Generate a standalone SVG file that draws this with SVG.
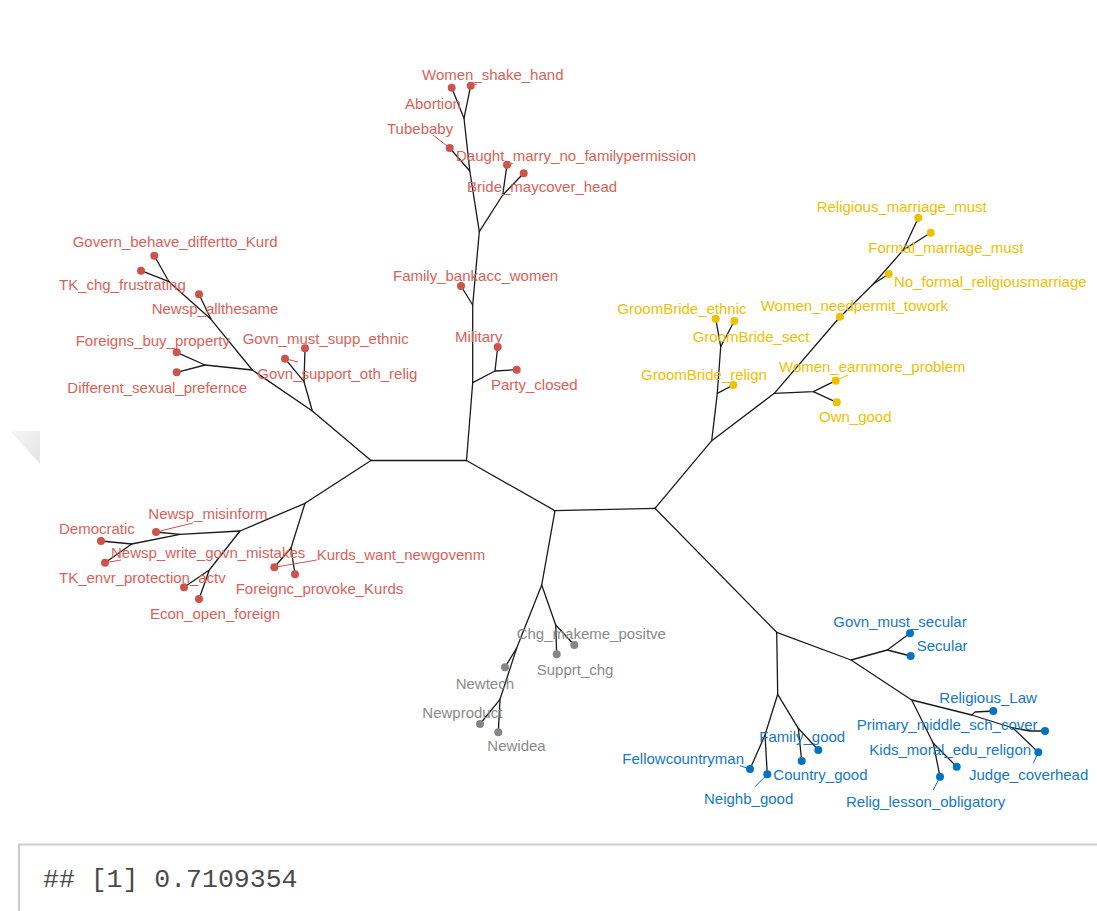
<svg xmlns="http://www.w3.org/2000/svg" width="1097" height="911" viewBox="0 0 1097 911">
<style>
.e{fill:none;stroke:#1a1a1a;stroke-width:1.3;stroke-linecap:round;stroke-linejoin:round}
.lr{stroke:#CD534C;stroke-width:1}
.ly{stroke:#EFC000;stroke-width:1}
.lb{stroke:#0073C2;stroke-width:1}
.dr{fill:#CD534C}.dy{fill:#EFC000}.dg{fill:#868686}.db{fill:#0073C2}
text{font-family:"Liberation Sans",Arial,sans-serif;font-size:15px}
.tr{fill:#DB5F58}.ty{fill:#EFC000}.tg{fill:#8a8a8a}.tb{fill:#1478C8}
.mono{font-family:"Liberation Mono","Courier New",monospace;font-size:26.5px;fill:#4a4a4a}
</style>
<defs>
<linearGradient id="sh" x1="0" y1="0" x2="1" y2="1">
<stop offset="0" stop-color="#f6f6f6"/><stop offset="1" stop-color="#e4e4e4"/>
</linearGradient>
</defs>
<rect width="1097" height="911" fill="#fff"/>
<polygon points="10,431 40,431 40,464" fill="url(#sh)"/>

<g id="connectors">
<path class="e" d="M371,460.5 L466.5,460.5 L555,510.7 L655,508.3"/>
<path class="e" d="M466.5,460.5 L472.7,382.7 L472.7,305 L479.3,231.7 L469.8,171 L464,118.3 L451.7,87.7"/>
<path class="e" d="M464,118.3 L470.7,85.7"/>
<path class="e" d="M469.8,171 L449.7,148"/>
<path class="e" d="M479.3,231.7 L502.7,195 L507,164.7"/>
<path class="e" d="M502.7,195 L523.7,173.3"/>
<path class="e" d="M472.7,305 L461,286"/>
<path class="e" d="M472.7,382.7 L495,371 L497.7,347"/>
<path class="e" d="M495,371 L516.7,369.7"/>
<path class="e" d="M371,460.5 L312.3,411 L252.3,370 L211,319.3 L169,281.7 L154.3,255.7"/>
<path class="e" d="M169,281.7 L141,270.7"/>
<path class="e" d="M211,319.3 L199,294.3"/>
<path class="e" d="M252.3,370 L205,365 L176.7,352.3"/>
<path class="e" d="M205,365 L176.7,372.3"/>
<path class="e" d="M312.3,411 L304,381.7 L305,348.3"/>
<path class="e" d="M304,381.7 L285,358.7"/>
<path class="e" d="M371,460.5 L305,503.3 L240,531 L180,534.3 L131.7,544 L101,541"/>
<path class="e" d="M180,534.3 L156,532"/>
<path class="e" d="M131.7,544 L105,562.7"/>
<path class="e" d="M240,531 L209.3,570 L184,587.3"/>
<path class="e" d="M209.3,570 L199,599"/>
<path class="e" d="M305,503.3 L291,548 L274.3,567.3"/>
<path class="e" d="M291,548 L295,574.3"/>
<path class="e" d="M655,508.3 L711.7,440.7 L774.3,393.3 L839,318 L873.3,284 L903.3,250 L918.3,217.7"/>
<path class="e" d="M903.3,250 L930.7,232.7"/>
<path class="e" d="M873.3,284 L888.7,274"/>
<path class="e" d="M774.3,393.3 L813.3,391.7 L835.7,380.7"/>
<path class="e" d="M813.3,391.7 L836.7,402.3"/>
<path class="e" d="M711.7,440.7 L717.3,393.3 L720.7,346.7 L715.7,318.7"/>
<path class="e" d="M720.7,346.7 L734.3,321"/>
<path class="e" d="M717.3,393.3 L733.3,385"/>
<path class="e" d="M555,510.7 L541.7,585 L516.7,648 L500,699.3 L498.3,732.3"/>
<path class="e" d="M500,699.3 L480,724"/>
<path class="e" d="M516.7,648 L505,667.3"/>
<path class="e" d="M541.7,585 L555.7,625 L556.7,654.3"/>
<path class="e" d="M555.7,625 L574.3,645"/>
<path class="e" d="M655,508.3 L776.7,632.3 L777.7,694.3 L765,735 L750,769"/>
<path class="e" d="M765,735 L767.3,774.3"/>
<path class="e" d="M777.7,694.3 L798.3,728.3 L801.7,761"/>
<path class="e" d="M798.3,728.3 L818.3,750"/>
<path class="e" d="M776.7,632.3 L851,660 L911.7,700 L971.7,715 L1013,728 L1030,731 L1045,731"/>
<path class="e" d="M971.7,715 L975,712 L993.3,711"/>
<path class="e" d="M1013,728 L1038.3,752.3"/>
<path class="e" d="M911.7,700 L933.3,743.3 L940,776.7"/>
<path class="e" d="M933.3,743.3 L956.7,766.7"/>
<path class="e" d="M851,660 L887.3,650 L910,633.3"/>
<path class="e" d="M887.3,650 L910.7,656"/>
<line class="lr" x1="433" y1="135" x2="449.7" y2="148"/>
<line class="lr" x1="470.7" y1="85.7" x2="477" y2="84"/>
<line class="lr" x1="285" y1="358.7" x2="298" y2="362"/>
<line class="lr" x1="274.3" y1="567.3" x2="316.7" y2="560"/>
<line class="lr" x1="156" y1="532" x2="193" y2="523"/>
<line class="lr" x1="105" y1="562.7" x2="121" y2="560"/>
<line class="ly" x1="835.7" y1="380.7" x2="848" y2="375"/>
<line class="lb" x1="750" y1="769" x2="740" y2="765.7"/>
<line class="lb" x1="767.3" y1="774.3" x2="755" y2="786.7"/>
<line class="lb" x1="940" y1="776.7" x2="933.3" y2="790"/>
<line class="lb" x1="1038.3" y1="752.3" x2="1033.3" y2="763.3"/>
</g>

<g id="n-women-shake-hand"><circle class="dr" cx="470.7" cy="85.7" r="4"/><text class="tr" x="422" y="80">Women_shake_hand</text></g>
<g id="n-abortion"><circle class="dr" cx="451.7" cy="87.7" r="4"/><text class="tr" x="405" y="109">Abortion</text></g>
<g id="n-tubebaby"><circle class="dr" cx="449.7" cy="148" r="4"/><text class="tr" x="387" y="134">Tubebaby</text></g>
<g id="n-daught"><circle class="dr" cx="507" cy="164.7" r="4"/><text class="tr" x="456" y="161">Daught_marry_no_familypermission</text></g>
<g id="n-bride"><circle class="dr" cx="523.7" cy="173.3" r="4"/><text class="tr" x="467" y="192">Bride_maycover_head</text></g>
<g id="n-family-bankacc"><circle class="dr" cx="461" cy="286" r="4"/><text class="tr" x="393" y="281">Family_bankacc_women</text></g>
<g id="n-military"><circle class="dr" cx="497.7" cy="347" r="4"/><text class="tr" x="455" y="342">Military</text></g>
<g id="n-party-closed"><circle class="dr" cx="516.7" cy="369.7" r="4"/><text class="tr" x="491" y="390">Party_closed</text></g>

<g id="n-govern-behave"><circle class="dr" cx="154.3" cy="255.7" r="4"/><text class="tr" x="72.7" y="247">Govern_behave_differtto_Kurd</text></g>
<g id="n-tk-chg"><circle class="dr" cx="141" cy="270.7" r="4"/><text class="tr" x="59" y="290">TK_chg_frustrating</text></g>
<g id="n-newsp-allthesame"><circle class="dr" cx="199" cy="294.3" r="4"/><text class="tr" x="151.7" y="314">Newsp_allthesame</text></g>
<g id="n-foreigns-buy"><circle class="dr" cx="176.7" cy="352.3" r="4"/><text class="tr" x="75.7" y="346">Foreigns_buy_property</text></g>
<g id="n-different-sexual"><circle class="dr" cx="176.7" cy="372.3" r="4"/><text class="tr" x="67.3" y="393">Different_sexual_prefernce</text></g>
<g id="n-govn-must-supp"><circle class="dr" cx="305" cy="348.3" r="4"/><text class="tr" x="242.7" y="343.5">Govn_must_supp_ethnic</text></g>
<g id="n-govn-support"><circle class="dr" cx="285" cy="358.7" r="4"/><text class="tr" x="257.3" y="379">Govn_support_oth_relig</text></g>

<g id="n-newsp-misinform"><circle class="dr" cx="156" cy="532" r="4"/><text class="tr" x="148.3" y="518.5">Newsp_misinform</text></g>
<g id="n-democratic"><circle class="dr" cx="101" cy="541" r="4"/><text class="tr" x="59" y="533.5">Democratic</text></g>
<g id="n-tk-envr"><circle class="dr" cx="105" cy="562.7" r="4"/><text class="tr" x="59" y="582.5">TK_envr_protection_actv</text></g>
<g id="n-newsp-write"><circle class="dr" cx="184" cy="587.3" r="4"/><text class="tr" x="111" y="557.5">Newsp_write_govn_mistakes</text></g>
<g id="n-econ-open"><circle class="dr" cx="199" cy="599" r="4"/><text class="tr" x="150" y="618.5">Econ_open_foreign</text></g>
<g id="n-kurds-want"><circle class="dr" cx="274.3" cy="567.3" r="4"/><text class="tr" x="316.7" y="559.5">Kurds_want_newgovenm</text></g>
<g id="n-foreignc-provoke"><circle class="dr" cx="295" cy="574.3" r="4"/><text class="tr" x="235.7" y="593.5">Foreignc_provoke_Kurds</text></g>

<g id="n-religious-marriage"><circle class="dy" cx="918.3" cy="217.7" r="4"/><text class="ty" x="816.7" y="212">Religious_marriage_must</text></g>
<g id="n-formal-marriage"><circle class="dy" cx="930.7" cy="232.7" r="4"/><text class="ty" x="868.3" y="252.5">Formal_marriage_must</text></g>
<g id="n-no-formal"><circle class="dy" cx="888.7" cy="274" r="4"/><text class="ty" x="894" y="287">No_formal_religiousmarriage</text></g>
<g id="n-women-needpermit"><circle class="dy" cx="840" cy="316.7" r="4"/><text class="ty" x="760.7" y="311">Women_needpermit_towork</text></g>
<g id="n-groombride-ethnic"><circle class="dy" cx="715.7" cy="318.7" r="4"/><text class="ty" x="617.3" y="313.5">GroomBride_ethnic</text></g>
<g id="n-groombride-sect"><circle class="dy" cx="734.3" cy="321" r="4"/><text class="ty" x="692.7" y="342">GroomBride_sect</text></g>
<g id="n-groombride-relign"><circle class="dy" cx="733.3" cy="385" r="4"/><text class="ty" x="641" y="379.5">GroomBride_relign</text></g>
<g id="n-women-earnmore"><circle class="dy" cx="835.7" cy="380.7" r="4"/><text class="ty" x="779" y="372">Women_earnmore_problem</text></g>
<g id="n-own-good"><circle class="dy" cx="836.7" cy="402.3" r="4"/><text class="ty" x="819" y="422">Own_good</text></g>

<g id="n-chg-makeme"><circle class="dg" cx="574.3" cy="645" r="4"/><text class="tg" x="516.7" y="639">Chg_makeme_positve</text></g>
<g id="n-supprt-chg"><circle class="dg" cx="556.7" cy="654.3" r="4"/><text class="tg" x="536.7" y="675">Supprt_chg</text></g>
<g id="n-newtech"><circle class="dg" cx="505" cy="667.3" r="4"/><text class="tg" x="455.7" y="689">Newtech</text></g>
<g id="n-newproduct"><circle class="dg" cx="480" cy="724" r="4"/><text class="tg" x="422.3" y="717.5">Newproduct</text></g>
<g id="n-newidea"><circle class="dg" cx="498.3" cy="732.3" r="4"/><text class="tg" x="487.3" y="751">Newidea</text></g>

<g id="n-govn-must-secular"><circle class="db" cx="910" cy="633.3" r="4"/><text class="tb" x="833.3" y="627">Govn_must_secular</text></g>
<g id="n-secular"><circle class="db" cx="910.7" cy="656" r="4"/><text class="tb" x="916.7" y="651">Secular</text></g>
<g id="n-religious-law"><circle class="db" cx="993.3" cy="711" r="4"/><text class="tb" x="939.3" y="703">Religious_Law</text></g>
<g id="n-primary-middle"><circle class="db" cx="1045" cy="731" r="4"/><text class="tb" x="856.7" y="730">Primary_middle_sch_cover</text></g>
<g id="n-kids-moral"><circle class="db" cx="956.7" cy="766.7" r="4"/><text class="tb" x="869.3" y="755">Kids_moral_edu_religon</text></g>
<g id="n-judge-coverhead"><circle class="db" cx="1038.3" cy="752.3" r="4"/><text class="tb" x="969" y="780">Judge_coverhead</text></g>
<g id="n-relig-lesson"><circle class="db" cx="940" cy="776.7" r="4"/><text class="tb" x="846" y="807">Relig_lesson_obligatory</text></g>
<g id="n-family-good"><circle class="db" cx="818.3" cy="750" r="4"/><text class="tb" x="759.3" y="742">Family_good</text></g>
<g id="n-country-good"><circle class="db" cx="801.7" cy="761" r="4"/><text class="tb" x="773.3" y="780">Country_good</text></g>
<g id="n-fellowcountryman"><circle class="db" cx="750" cy="769" r="4"/><text class="tb" x="622.3" y="763.5">Fellowcountryman</text></g>
<g id="n-neighb-good"><circle class="db" cx="767.3" cy="774.3" r="4"/><text class="tb" x="704" y="804">Neighb_good</text></g>

<g id="output-box">
<path d="M19,911 L19,844.5 L1097,844.5" fill="none" stroke="#cccccc" stroke-width="2"/>
<text class="mono" x="43" y="887">## [1] 0.7109354</text>
</g>
</svg>
